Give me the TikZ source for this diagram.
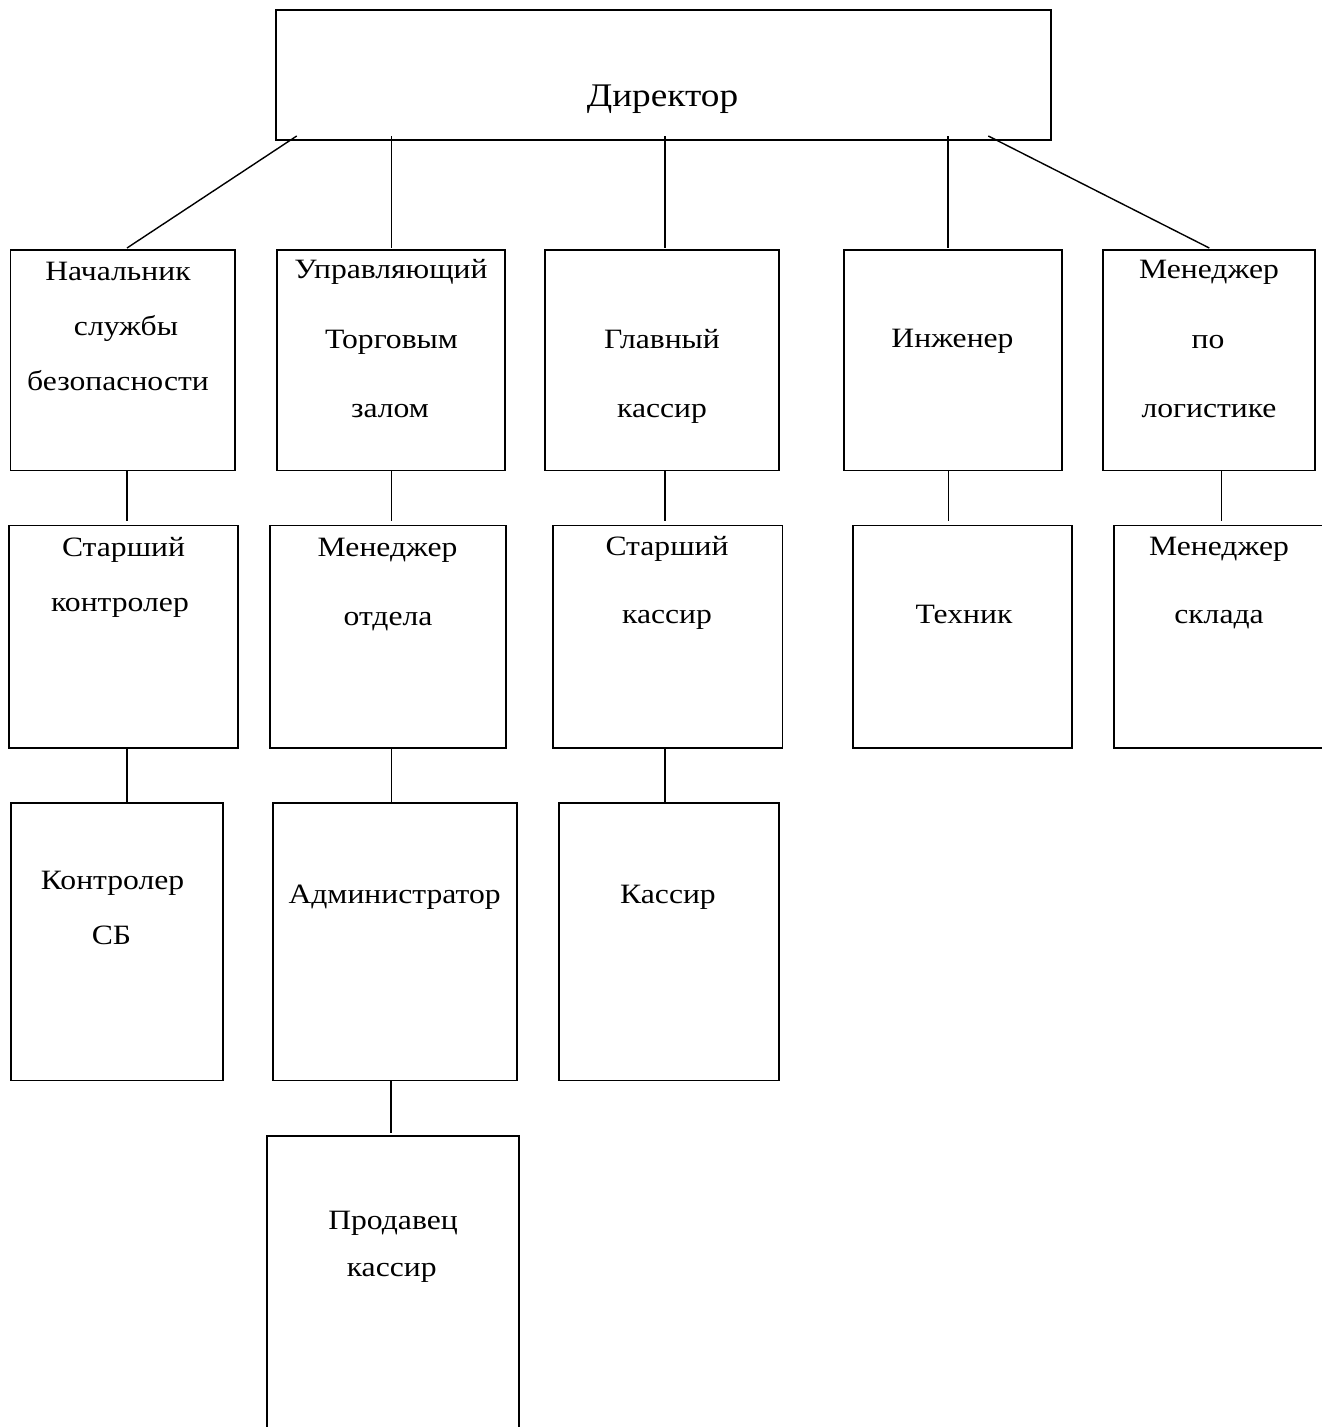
\documentclass[tikz,border=0pt]{standalone}
\usepackage{fontspec}
\setmainfont{Liberation Serif}[FakeStretch=1.13]
\usetikzlibrary{calc}
\tikzset{
  box/.style={draw, rectangle, line width=1.8pt, inner sep=0pt, outer sep=0pt},
  lbl/.style={anchor=base, inner sep=0pt, font=\fontsize{28}{34}\selectfont},
  big/.style={anchor=base, inner sep=0pt, font=\fontsize{33}{40}\selectfont},
  conn/.style={line width=1.4pt}
}
\newcommand{\mybox}[5]{\node[box, minimum width={#4-#2}, minimum height={#5-#3}] (#1) at ({(#2+#4)/2},{(#3+#5)/2}) {};}
\begin{document}
\begin{tikzpicture}[x=1pt,y=-1pt]
\useasboundingbox (0,0) rectangle (1322,1427);
\clip (0,0) rectangle (1322,1427);
% boxes
\mybox{dir}{275.7}{10}{1050.6}{140}
\mybox{b11}{10.5}{250}{234.8}{470.5}
\mybox{b12}{277}{250}{505}{470.5}
\mybox{b13}{545}{250}{778.7}{470.5}
\mybox{b14}{844.3}{250}{1062}{470.5}
\mybox{b15}{1103.2}{250}{1315.3}{470.5}
\mybox{b21}{8.8}{525.5}{238.2}{747.8}
\mybox{b22}{269.8}{525.5}{506.3}{747.8}
\mybox{b23}{552.6}{525.5}{782.4}{747.8}
\mybox{b24}{853.3}{525.5}{1072}{747.8}
\mybox{b25}{1113.8}{525.5}{1340}{747.8}
\mybox{b31}{10.9}{803}{223}{1080.4}
\mybox{b32}{272.7}{803}{517.3}{1080.4}
\mybox{b33}{558.9}{803}{779}{1080.4}
\mybox{b42}{266.7}{1135.7}{518.7}{1445}
% texts
\node[big] (tdir) at (662.5,106) {Директор};
\node[lbl] (t11a) at (118,280) {Начальник};
\node[lbl] (t11b) at (126,335) {службы};
\node[lbl] (t11c) at (118,390) {безопасности};
\node[lbl] (t12a) at (391,278) {Управляющий};
\node[lbl] (t12b) at (391.6,348) {Торговым};
\node[lbl] (t12c) at (390,417) {залом};
\node[lbl] (t13a) at (662,348) {Главный};
\node[lbl] (t13b) at (662,417) {кассир};
\node[lbl] (t14a) at (952.5,347) {Инженер};
\node[lbl] (t15a) at (1209,278) {Менеджер};
\node[lbl] (t15b) at (1208,348) {по};
\node[lbl] (t15c) at (1209,417) {логистике};
\node[lbl] (t21a) at (123.5,556) {Старший};
\node[lbl] (t21b) at (120,611) {контролер};
\node[lbl] (t22a) at (387.6,556) {Менеджер};
\node[lbl] (t22b) at (388,625) {отдела};
\node[lbl] (t23a) at (667,555) {Старший};
\node[lbl] (t23b) at (667,623) {кассир};
\node[lbl] (t24a) at (964,623) {Техник};
\node[lbl] (t25a) at (1219,555) {Менеджер};
\node[lbl] (t25b) at (1219,623) {склада};
\node[lbl] (t31a) at (112.6,889) {Контролер};
\node[lbl] (t31b) at (111.5,944) {СБ};
\node[lbl] (t32a) at (394.6,903) {Администратор};
\node[lbl] (t33a) at (668,903) {Кассир};
\node[lbl] (t42a) at (393,1229) {Продавец};
\node[lbl] (t42b) at (391.7,1276) {кассир};
% connectors from director
\draw[conn] ([xshift=21pt,yshift=4pt]dir.south west) -- ([xshift=116.5pt,yshift=2pt]b11.north west);
\coordinate (d2) at ([yshift=4pt]dir.south);
\coordinate (e2) at ([xshift=0.4pt,yshift=2pt]b12.north);
\draw[conn] (e2 |- d2) -- (e2);
\coordinate (e3) at ([xshift=3pt,yshift=2pt]b13.north);
\draw[conn] (e3 |- d2) -- (e3);
\coordinate (e4) at ([xshift=-5pt,yshift=2pt]b14.north);
\draw[conn] (e4 |- d2) -- (e4);
\draw[conn] ([xshift=-62.3pt,yshift=4pt]dir.south east) -- ([yshift=2pt]b15.north);
% lower connectors
\coordinate (s1) at ([xshift=4.3pt]b11.south);
\coordinate (n1) at ([yshift=4.5pt]b21.north);
\draw[conn] (s1) -- (s1 |- n1);
\coordinate (s2) at ([xshift=0.4pt]b12.south);
\draw[conn] (s2) -- (s2 |- n1);
\coordinate (s3) at ([xshift=3pt]b13.south);
\draw[conn] (s3) -- (s3 |- n1);
\coordinate (s4) at ([xshift=-4.9pt]b14.south);
\draw[conn] (s4) -- (s4 |- n1);
\coordinate (s5) at ([xshift=12.2pt]b15.south);
\draw[conn] (s5) -- (s5 |- n1);
\coordinate (n2) at ([yshift=1.5pt]b31.north);
\coordinate (u1) at ([xshift=3.5pt]b21.south);
\draw[conn] (u1) -- (u1 |- n2);
\coordinate (u2) at ([xshift=3.35pt]b22.south);
\draw[conn] (u2) -- (u2 |- n2);
\coordinate (u3) at ([xshift=-2.5pt]b23.south);
\draw[conn] (u3) -- (u3 |- n2);
\coordinate (v2) at ([xshift=-4pt]b32.south);
\coordinate (n3) at ([yshift=2.5pt]b42.north);
\draw[conn] (v2) -- (v2 |- n3);
\end{tikzpicture}
\end{document}
